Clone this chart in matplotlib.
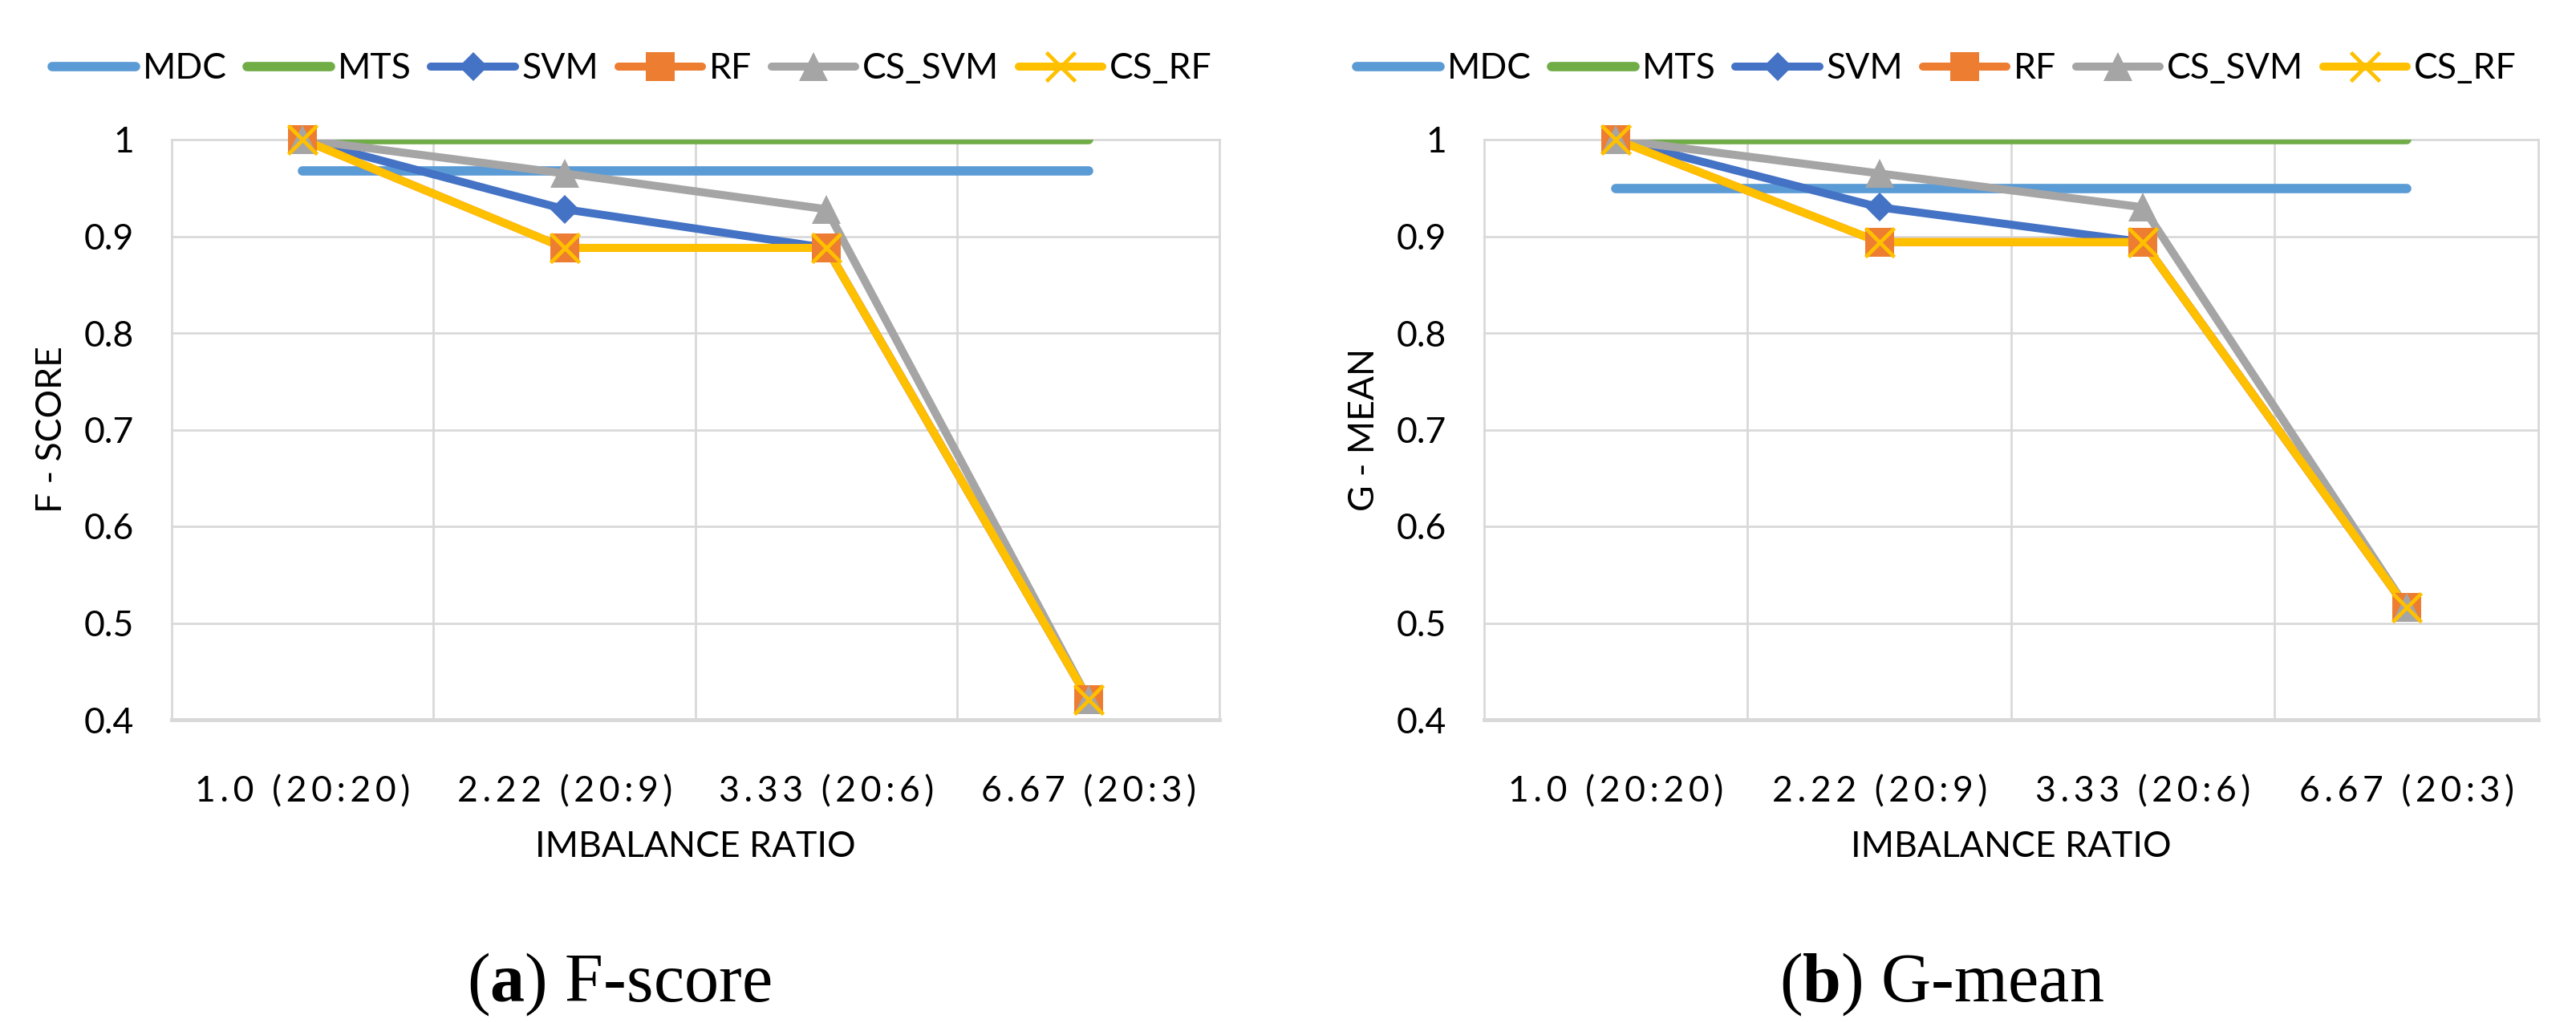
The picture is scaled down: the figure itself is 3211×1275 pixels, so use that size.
import matplotlib
matplotlib.use('Agg')
import matplotlib.pyplot as plt
from matplotlib.lines import Line2D

plt.rcParams['font.family'] = ['Lato', 'DejaVu Sans']
plt.rcParams['mathtext.fontset'] = 'custom'
plt.rcParams['mathtext.rm'] = 'Liberation Serif'
plt.rcParams['mathtext.bf'] = 'Liberation Serif:bold'

# datos
categories = ['1.0 (20:20)', '2.22 (20:9)', '3.33 (20:6)', '6.67 (20:3)']
series_names = ['MDC', 'MTS', 'SVM', 'RF', 'CS_SVM', 'CS_RF']

fscore_mdc = [0.968, 0.968, 0.968, 0.968]
fscore_mts = [1.0, 1.0, 1.0, 1.0]
fscore_svm = [1.0, 0.928, 0.888, 0.421]
fscore_rf = [1.0, 0.888, 0.888, 0.421]
fscore_cs_svm = [1.0, 0.965, 0.928, 0.421]
fscore_cs_rf = [1.0, 0.888, 0.888, 0.421]

gmean_mdc = [0.949, 0.949, 0.949, 0.949]
gmean_mts = [1.0, 1.0, 1.0, 1.0]
gmean_svm = [1.0, 0.930, 0.894, 0.516]
gmean_rf = [1.0, 0.894, 0.894, 0.516]
gmean_cs_svm = [1.0, 0.965, 0.930, 0.516]
gmean_cs_rf = [1.0, 0.894, 0.894, 0.516]

yticks = [0.4, 0.5, 0.6, 0.7, 0.8, 0.9, 1.0]
ytick_labels = ['0.4', '0.5', '0.6', '0.7', '0.8', '0.9', '1']

# estilo de cada serie: color, ancho, marcador, tamano
styles = {
    'MDC': ('#5B9BD5', 4.2, None, 0),
    'MTS': ('#70AD47', 4.2, None, 0),
    'SVM': ('#4472C4', 3.6, 'D', 9.2),
    'RF': ('#ED7D31', 3.6, 's', 12.8),
    'CS_SVM': ('#A5A5A5', 3.6, '^', 13),
    'CS_RF': ('#FFC000', 3.6, 'x', 12.8),
}

W, H = 3212, 1275
fig = plt.figure(figsize=(W / 200, H / 200), dpi=200)
GRID = '#D9D9D9'
FS = 16
THIN = '\u2009'


def spaced(s):
    # el Excel original deja espacio entre caracteres
    return THIN.join(s)


def draw_panel(ax, data, ylabel):
    x = list(range(len(categories)))
    for name, values in zip(series_names, data):
        color, lw, marker, ms = styles[name]
        ax.plot(x, values, color=color, lw=lw, solid_capstyle='round',
                solid_joinstyle='round', zorder=3)
        if marker is not None:
            if marker == 'x':
                ax.plot(x, values, ls='none', marker=marker, ms=ms, mew=1.7,
                        color=color, clip_on=False, zorder=4)
            else:
                ax.plot(x, values, ls='none', marker=marker, ms=ms, mew=0,
                        color=color, clip_on=False, zorder=4)
    ax.set_xlim(-0.5, len(categories) - 0.5)
    ax.set_ylim(0.4, 1.0)
    ax.set_xticks(x)
    ax.set_xticklabels([spaced(c) for c in categories])
    ax.set_yticks(yticks)
    ax.set_yticklabels(ytick_labels)
    ax.tick_params(axis='both', which='both', length=0, labelsize=FS, colors='black')
    ax.tick_params(axis='x', pad=25)
    ax.tick_params(axis='y', pad=17)
    # lineas de cuadricula
    for yv in yticks[1:]:
        ax.axhline(yv, color=GRID, lw=1.0, zorder=0, clip_on=False)
    for i in range(len(categories) + 1):
        ax.axvline(i - 0.5, color=GRID, lw=1.0, zorder=0, clip_on=False)
    for s in ['top', 'left', 'right']:
        ax.spines[s].set_visible(False)
    ax.spines['bottom'].set_color(GRID)
    ax.spines['bottom'].set_linewidth(1.8)
    ax.set_xlabel('IMBALANCE RATIO', fontsize=FS, labelpad=10)
    ax.set_ylabel(ylabel, fontsize=FS, labelpad=7)


bottom = 1 - 897 / H
height = 723 / H
ax1 = fig.add_axes([214 / W, bottom, 1306 / W, height])
ax2 = fig.add_axes([1850 / W, bottom, 1314 / W, height])

draw_panel(ax1, [fscore_mdc, fscore_mts, fscore_svm, fscore_rf, fscore_cs_svm, fscore_cs_rf], 'F - SCORE')
draw_panel(ax2, [gmean_mdc, gmean_mts, gmean_svm, gmean_rf, gmean_cs_svm, gmean_cs_rf], 'G - MEAN')

handles = []
for name in series_names:
    color, lw, marker, ms = styles[name]
    handles.append(Line2D([0], [0], color=color, lw=lw, marker=marker, ms=ms,
                          mew=1.7 if marker == 'x' else 0, solid_capstyle='round'))

for cx in [788, 2414]:
    fig.legend(handles, series_names, loc='center', bbox_to_anchor=(cx / W, 1 - 86 / H),
               ncol=6, frameon=False, fontsize=FS, handlelength=2.35,
               handletextpad=0.2, columnspacing=0.55)

fig.text(772 / W, 1 - 1227 / H, r'($\mathbf{a}$) F-score', ha='center', va='center',
         fontsize=31, family='Liberation Serif')
fig.text(2420 / W, 1 - 1227 / H, r'($\mathbf{b}$) G-mean', ha='center', va='center',
         fontsize=31, family='Liberation Serif')

fig.savefig('out.png', dpi=200, facecolor='white')
